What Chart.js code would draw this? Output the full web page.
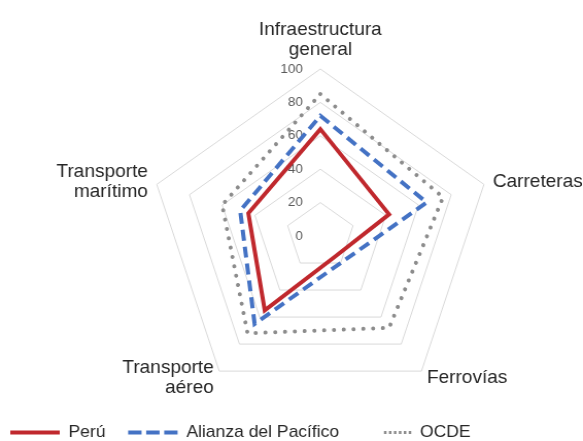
<!DOCTYPE html>
<html>
<head>
<meta charset="utf-8">
<script src="https://cdn.jsdelivr.net/npm/chart.js@4/dist/chart.umd.min.js"></script>
<style>
  html, body { margin: 0; padding: 0; background: #fff; }
</style>
</head>
<body>
<!-- the reference is a little wider than tall, so the canvas is stretched by css -->
<canvas id="chart" width="566" height="441" style="width:583px;height:441px"></canvas>
<script>
const categories = [['Infraestructura', 'general'], 'Carreteras', 'Ferrovías', ['Transporte', 'aéreo'], ['Transporte', 'marítimo']];
const seriesNames = ['Perú', 'Alianza del Pacífico', 'OCDE'];
const peru = [64, 42, 15, 55, 44];
const alianza = [72, 65, 20, 65, 49];
const ocde = [85, 75, 68, 72, 60];
const tickValues = [0, 20, 40, 60, 80, 100];

const FONT = '"Liberation Sans", Arial, sans-serif';
Chart.defaults.font.family = FONT;

// legend samples: the dotted one only fills the right half of its box
const legendStyles = [
    { color: '#c0282d', width: 4, dash: [] },
    { color: '#4472c4', width: 4, dash: [13, 4.5, 13, 4.5, 13, 60] },
    { color: '#8c8c8c', width: 3, dash: [0, 21.5, 2.5, 2.3, 2.5, 2.3, 2.5, 2.3, 2.5, 2.3, 2.5, 2.3, 2.5, 60] }
];

const radarText = {
    id: 'radarText',
    beforeDatasetsDraw(chart) {
        const scale = chart.scales.r;
        const ctx = chart.ctx;
        ctx.save();
        ctx.font = '13px ' + FONT;
        ctx.fillStyle = '#595959';
        ctx.textAlign = 'right';
        ctx.textBaseline = 'middle';
        tickValues.forEach(v => {
            const p = scale.getPointPositionForValue(0, v);
            ctx.fillText(String(v), p.x - 17, p.y);
        });
        ctx.restore();
    },
    afterDatasetsDraw(chart) {
        const scale = chart.scales.r;
        const ctx = chart.ctx;
        const lineH = 20;
        ctx.save();
        ctx.font = '18.5px ' + FONT;
        ctx.fillStyle = '#262626';
        ctx.textBaseline = 'middle';
        chart.data.labels.forEach((label, i) => {
            const lines = [].concat(label);
            const p = scale.getPointPosition(i, scale.drawingArea + 9);
            const dx = p.x - scale.xCenter;
            const isTop = Math.abs(dx) < 1 && p.y < scale.yCenter;
            ctx.textAlign = Math.abs(dx) < 1 ? 'center' : (dx > 0 ? 'left' : 'right');
            const h = lines.length * lineH;
            const y0 = isTop ? p.y - h : p.y - h / 2;
            lines.forEach((t, k) => ctx.fillText(t, p.x, y0 + lineH * (k + 0.5)));
        });
        ctx.restore();
    }
};

new Chart(document.getElementById('chart'), {
    type: 'radar',
    data: {
        labels: categories,
        datasets: [
            {
                label: seriesNames[0],
                data: peru,
                borderColor: '#c0282d',
                borderWidth: 4,
                borderJoinStyle: 'miter'
            },
            {
                label: seriesNames[1],
                data: alianza,
                borderColor: '#4472c4',
                borderWidth: 4,
                borderDash: [11, 6]
            },
            {
                label: seriesNames[2],
                data: ocde,
                borderColor: '#8c8c8c',
                borderWidth: 4,
                borderDash: [0.01, 9.5],
                borderCapStyle: 'round'
            }
        ]
    },
    options: {
        responsive: false,
        animation: false,
        layout: { padding: { left: -12, bottom: -10 } },
        elements: {
            line: { fill: false, tension: 0, backgroundColor: 'transparent' },
            point: { radius: 0, hoverRadius: 0 }
        },
        scales: {
            r: {
                min: 0,
                max: 100,
                afterBuildTicks: s => { s.ticks = tickValues.map(v => ({ value: v })); },
                afterFit: s => {
                    s.xCenter = 311;
                    s.yCenter = 236;
                    s.drawingArea = 167;
                },
                ticks: { display: false },
                pointLabels: { display: false },
                angleLines: { display: false },
                grid: { color: '#d9d9d9', lineWidth: 1 }
            }
        },
        plugins: {
            tooltip: { enabled: false },
            legend: {
                position: 'bottom',
                align: 'start',
                labels: {
                    usePointStyle: true,
                    pointStyle: 'line',
                    pointStyleWidth: 48,
                    padding: 22,
                    color: '#262626',
                    font: { size: 17 },
                    generateLabels(chart) {
                        return chart.data.datasets.map((ds, i) => ({
                            text: ds.label,
                            fillStyle: 'transparent',
                            strokeStyle: legendStyles[i].color,
                            lineWidth: legendStyles[i].width,
                            lineDash: legendStyles[i].dash,
                            lineCap: 'butt',
                            pointStyle: 'line',
                            fontColor: '#262626',
                            hidden: false,
                            datasetIndex: i
                        }));
                    }
                }
            }
        }
    },
    plugins: [radarText]
});
</script>
</body>
</html>
